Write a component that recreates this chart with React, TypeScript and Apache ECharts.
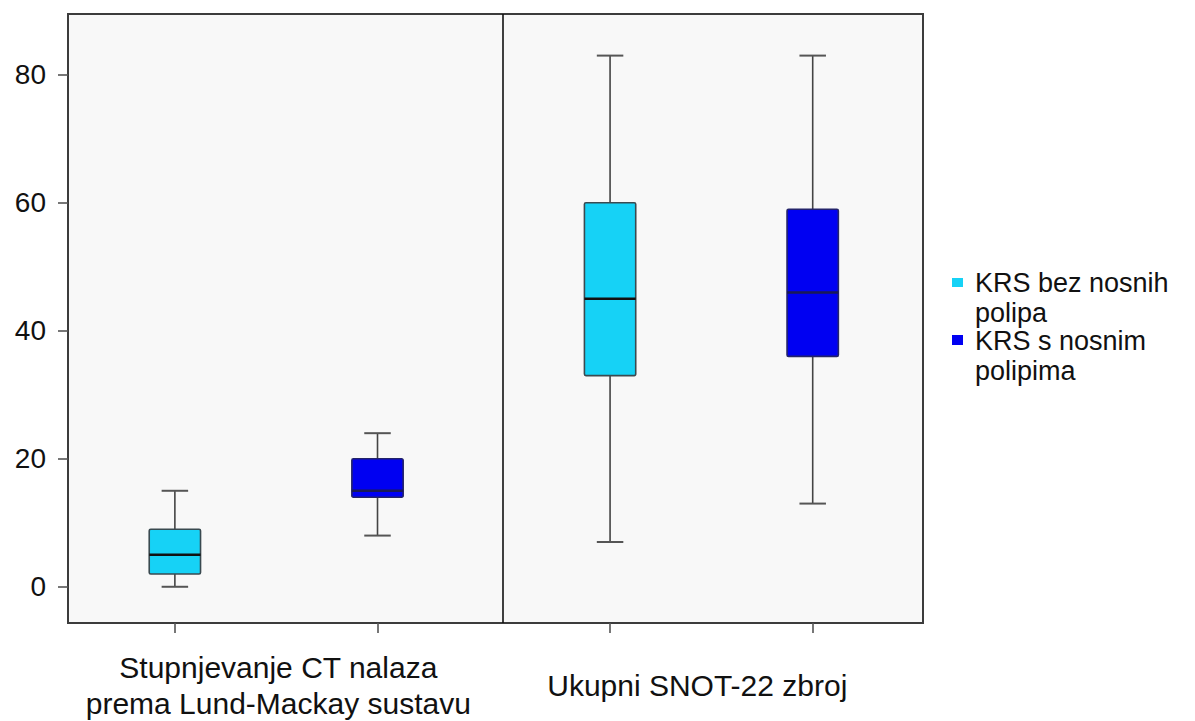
import React, { useEffect, useRef } from "react";
import * as echarts from "echarts";

// ---- data ----
const CATEGORIES = [
  "Stupnjevanje CT nalaza\nprema Lund-Mackay sustavu",
  "Ukupni SNOT-22 zbroj",
];
const SERIES_NAMES = ["KRS bez nosnih polipa", "KRS s nosnim polipima"];
const LEGEND_TEXTS = ["KRS bez nosnih\npolipa", "KRS s nosnim\npolipima"];
// [min, Q1, median, Q3, max] per category
const BEZ_POLIPA = [
  [0, 2, 5, 9, 15],
  [7, 33, 45, 60, 83],
];
const S_POLIPIMA = [
  [8, 14, 15, 20, 24],
  [13, 36, 46, 59, 83],
];
const Y_TICKS = [0, 20, 40, 60, 80];
// x-axis positions (0..100) of each series' box per category
const BOX_X = [
  [12.5, 63.4],
  [36.2, 87.1],
];
const LABEL_X = [24.6, 73.6];
const DIVIDER_X = 50.8;

const COLORS = ["#16d2f6", "#0000f2"];
const BORDERS = ["#3a4a50", "#23236a"];
const MEDIANS = ["#111111", "#1a1a55"];

export default function App() {
  const ref = useRef<HTMLDivElement>(null);
  useEffect(() => {
    if (!ref.current) return;
    const chart = echarts.init(ref.current, null, { renderer: "svg" });
    const BOX_W = 6.0; // in x units
    const CAP_W = 3.1;
    const makeSeries = (idx: number, values: number[][]) => ({
      type: "custom",
      name: SERIES_NAMES[idx],
      data: values.map((v, j) => [BOX_X[idx][j], ...v]),
      renderItem: (params: any, api: any) => {
        const x = api.value(0);
        const mn = api.coord([x, api.value(1)]);
        const q1 = api.coord([x, api.value(2)]);
        const md = api.coord([x, api.value(3)]);
        const q3 = api.coord([x, api.value(4)]);
        const mx = api.coord([x, api.value(5)]);
        const half = api.size([BOX_W, 0])[0] / 2;
        const capHalf = api.size([CAP_W, 0])[0] / 2;
        const cx = mn[0];
        const wStyle = { stroke: "#444444", lineWidth: 1.6 };
        return {
          type: "group",
          children: [
            { type: "line", shape: { x1: cx, y1: q3[1], x2: cx, y2: mx[1] }, style: wStyle },
            { type: "line", shape: { x1: cx, y1: q1[1], x2: cx, y2: mn[1] }, style: wStyle },
            { type: "line", shape: { x1: cx - capHalf, y1: mx[1], x2: cx + capHalf, y2: mx[1] }, style: { stroke: "#555555", lineWidth: 2 } },
            { type: "line", shape: { x1: cx - capHalf, y1: mn[1], x2: cx + capHalf, y2: mn[1] }, style: { stroke: "#555555", lineWidth: 2 } },
            {
              type: "rect",
              shape: { x: cx - half, y: q3[1], width: half * 2, height: q1[1] - q3[1], r: 1.5 },
              style: { fill: COLORS[idx], stroke: BORDERS[idx], lineWidth: 1.6 },
            },
            { type: "line", shape: { x1: cx - half, y1: md[1], x2: cx + half, y2: md[1] }, style: { stroke: MEDIANS[idx], lineWidth: 2.5 } },
          ],
        };
      },
      ...(idx === 0
        ? {
            markLine: {
              silent: true,
              symbol: "none",
              label: { show: false },
              lineStyle: { color: "#111111", width: 1.6, type: "solid" },
              data: [{ xAxis: DIVIDER_X }],
            },
          }
        : {}),
    });

    const font = "'Liberation Sans', Arial, sans-serif";
    chart.setOption({
      animation: false,
      backgroundColor: "#ffffff",
      grid: {
        left: 68,
        top: 14,
        right: 272,
        bottom: 97,
        show: true,
        backgroundColor: "#f8f8f8",
        borderColor: "#3c3c3c",
        borderWidth: 2,
      },
      xAxis: {
        type: "value",
        min: 0,
        max: 100,
        splitLine: { show: false },
        axisLine: { show: false, onZero: false },
        axisTick: {
          show: true,
          length: 10,
          customValues: [...BOX_X[0], ...BOX_X[1]],
          lineStyle: { color: "#555555", width: 1.6 },
        },
        axisLabel: {
          customValues: LABEL_X,
          formatter: (v: number) => {
            let best = 0;
            LABEL_X.forEach((lx, i) => {
              if (Math.abs(lx - v) < Math.abs(LABEL_X[best] - v)) best = i;
            });
            return CATEGORIES[best];
          },
          fontSize: 30,
          lineHeight: 36,
          verticalAlign: "middle",
          align: "center",
          margin: 62,
          color: "#111111",
          fontFamily: font,
        },
      },
      yAxis: {
        type: "value",
        min: -5.66,
        max: 89.5,
        splitLine: { show: false },
        axisLine: { show: false, onZero: false },
        axisTick: {
          show: true,
          length: 10,
          customValues: Y_TICKS,
          lineStyle: { color: "#555555", width: 1.6 },
        },
        axisLabel: {
          customValues: Y_TICKS,
          fontSize: 28,
          margin: 22,
          color: "#111111",
          fontFamily: font,
        },
      },
      series: [makeSeries(0, BEZ_POLIPA), makeSeries(1, S_POLIPIMA)],
      graphic: [
        { type: "rect", left: 952, top: 278, shape: { width: 11, height: 9 }, style: { fill: COLORS[0] } },
        {
          type: "text",
          left: 975,
          top: 268,
          style: { text: LEGEND_TEXTS[0], fontSize: 27, lineHeight: 30, fill: "#111111", fontFamily: font },
        },
        { type: "rect", left: 952, top: 335, shape: { width: 11, height: 10 }, style: { fill: COLORS[1] } },
        {
          type: "text",
          left: 975,
          top: 326,
          style: { text: LEGEND_TEXTS[1], fontSize: 27, lineHeight: 30, fill: "#111111", fontFamily: font },
        },
      ],
    });
    return () => chart.dispose();
  }, []);
  return (
    <div
      ref={ref}
      style={{ position: "fixed", left: 0, top: 0, width: 1195, height: 721, background: "#fff" }}
    />
  );
}
